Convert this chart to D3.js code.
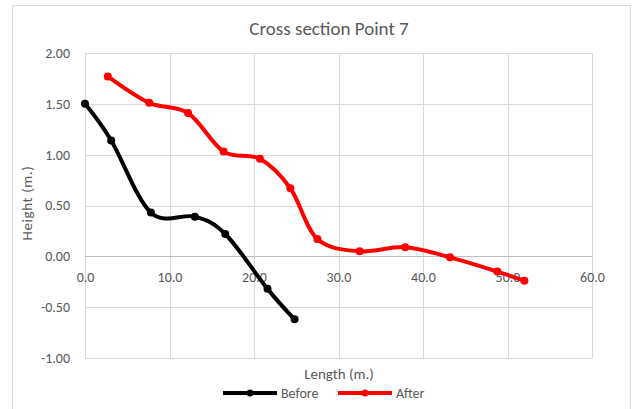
<!DOCTYPE html>
<html>
<head>
<meta charset="utf-8">
<script src="https://cdn.jsdelivr.net/npm/d3@7"></script>
<style>
  html, body { margin: 0; padding: 0; background: #fff; }
  svg { display: block; font-family: Carlito, Calibri, Lato, "Open Sans", sans-serif; }
</style>
</head>
<body>
<svg id="chart" width="632" height="409"></svg>
<script>
// Surveyed ground profile at cross section point 7
const beforeLength = [0.0, 3.1, 7.8, 13.0, 16.6, 21.6, 24.8];
const beforeHeight = [1.50, 1.14, 0.43, 0.39, 0.22, -0.32, -0.62];

const afterLength = [2.7, 7.6, 12.2, 16.4, 20.7, 24.3, 27.5, 32.5, 37.9, 43.2, 48.8, 52.0];
const afterHeight = [1.77, 1.51, 1.41, 1.03, 0.96, 0.67, 0.17, 0.05, 0.09, -0.01, -0.15, -0.24];

const xTicks = [0, 10, 20, 30, 40, 50, 60];
const yTicks = [-1.0, -0.5, 0.0, 0.5, 1.0, 1.5, 2.0];

const seriesNames = ["Before", "After"];
const seriesColors = ["#000000", "#ff0000"];

const svg = d3.select("#chart");
const plot = { left: 85, right: 592, top: 53, bottom: 358 };
const textColor = "#595959";
const font = "Carlito, Calibri, Lato, sans-serif";

// plain hyphen for negative numbers
const fmt = p => d => d3.format(p)(d).replace("\u2212", "-");

// chart frame
svg.append("rect")
  .attr("x", 12.5).attr("y", 5.5)
  .attr("width", 618).attr("height", 410)
  .attr("fill", "#fff").attr("stroke", "#d9d9d9");

const x = d3.scaleLinear().domain([0, 60]).range([plot.left, plot.right]);
const y = d3.scaleLinear().domain([-1, 2]).range([plot.bottom, plot.top]);

// gridlines
const grid = svg.append("g");
grid.selectAll("line.v").data(xTicks).join("line")
  .attr("y1", plot.top).attr("y2", plot.bottom)
  .attr("x1", d => Math.round(x(d)) + 0.5).attr("x2", d => Math.round(x(d)) + 0.5)
  .attr("stroke", "#d9d9d9").attr("stroke-width", 1);
grid.selectAll("line.h").data(yTicks).join("line")
  .attr("x1", plot.left).attr("x2", plot.right)
  .attr("y1", d => Math.round(y(d)) + 0.5).attr("y2", d => Math.round(y(d)) + 0.5)
  .attr("stroke", d => d === 0 ? "#bfbfbf" : "#d9d9d9").attr("stroke-width", 1);

// axes
const yAxis = d3.axisLeft(y).tickValues(yTicks).tickFormat(fmt(".2f")).tickSize(0).tickPadding(15);
svg.append("g").attr("transform", `translate(${plot.left},0)`).call(yAxis)
  .call(g => g.select(".domain").remove())
  .selectAll("text").attr("font-size", 14).attr("fill", textColor).attr("font-family", font);

const xAxis = d3.axisBottom(x).tickValues(xTicks).tickFormat(fmt(".1f")).tickSize(0).tickPadding(16);
svg.append("g").attr("transform", `translate(0,${y(0)})`).call(xAxis)
  .call(g => g.select(".domain").remove())
  .selectAll("text").attr("font-size", 14).attr("fill", textColor).attr("font-family", font);

// titles
svg.append("text").attr("x", 329).attr("y", 35).attr("text-anchor", "middle")
  .attr("font-size", 19).attr("fill", textColor).text("Cross section Point 7");
svg.append("text").attr("x", 339).attr("y", 379).attr("text-anchor", "middle")
  .attr("font-size", 15).attr("fill", textColor).text("Length (m.)");
svg.append("text").attr("transform", `translate(32,203) rotate(-90)`)
  .attr("text-anchor", "middle").attr("font-size", 15).attr("letter-spacing", 0.6)
  .attr("fill", textColor).text("Height (m.)");

// series
const series = [
  beforeLength.map((d, i) => [d, beforeHeight[i]]),
  afterLength.map((d, i) => [d, afterHeight[i]])
];
const line = d3.line().x(d => x(d[0])).y(d => y(d[1])).curve(d3.curveCatmullRom.alpha(0));

series.forEach((pts, i) => {
  const g = svg.append("g");
  g.append("path").attr("d", line(pts)).attr("fill", "none")
    .attr("stroke", seriesColors[i]).attr("stroke-width", 4)
    .attr("stroke-linejoin", "round").attr("stroke-linecap", "round");
  g.selectAll("circle").data(pts).join("circle")
    .attr("cx", d => x(d[0])).attr("cy", d => y(d[1])).attr("r", 4)
    .attr("fill", seriesColors[i]);
});

// legend
const legendItems = [
  { x: 223, tx: 281 },
  { x: 338, tx: 396 }
];
legendItems.forEach((it, i) => {
  const ly = 393;
  svg.append("line").attr("x1", it.x).attr("x2", it.x + 54).attr("y1", ly).attr("y2", ly)
    .attr("stroke", seriesColors[i]).attr("stroke-width", 4);
  svg.append("circle").attr("cx", it.x + 27).attr("cy", ly).attr("r", 3.5).attr("fill", seriesColors[i]);
  svg.append("text").attr("x", it.tx).attr("y", ly + 5).attr("font-size", 14)
    .attr("fill", textColor).text(seriesNames[i]);
});
</script>
</body>
</html>
